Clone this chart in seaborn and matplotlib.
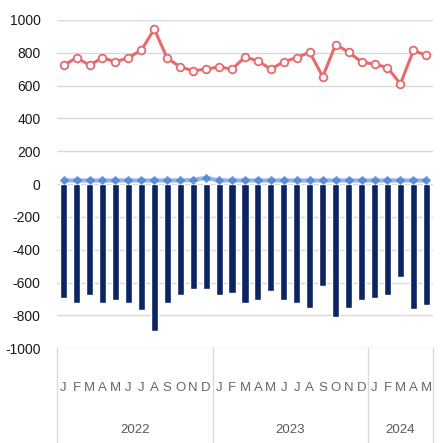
import matplotlib
matplotlib.use("Agg")
import matplotlib.pyplot as plt
import matplotlib.transforms as mtransforms
import seaborn as sns
import numpy as np
import pandas as pd

months = ["J", "F", "M", "A", "M", "J", "J", "A", "S", "O", "N", "D",
          "J", "F", "M", "A", "M", "J", "J", "A", "S", "O", "N", "D",
          "J", "F", "M", "A", "M"]
years = ["2022", "2023", "2024"]
year_counts = [12, 12, 5]

red_series = [724, 770, 724, 770, 744, 770, 816, 944, 766, 714, 690, 700,
              714, 700, 774, 750, 700, 746, 770, 804, 654, 850, 804, 744,
              730, 710, 610, 814, 784]
blue_series = [22, 22, 22, 22, 22, 22, 22, 22, 22, 22, 25, 38,
               22, 22, 22, 22, 22, 22, 22, 22, 22, 22, 22, 22,
               22, 22, 22, 22, 22]
bar_series = [-696, -727, -678, -727, -708, -727, -767, -896, -727, -678, -637, -637,
              -678, -665, -727, -708, -651, -708, -727, -753, -620, -810, -753, -708,
              -696, -678, -566, -763, -737]

df = pd.DataFrame({"idx": np.arange(len(months)), "red": red_series,
                   "blue": blue_series, "bar": bar_series})

sns.set_theme(style="white")
plt.rcParams["font.family"] = ["Liberation Sans Narrow", "Liberation Sans", "DejaVu Sans"]

fig = plt.figure(figsize=(4.43, 4.43), dpi=100)
ax = fig.add_axes([0.129, 0.214, 0.848, 0.741])

for v in range(-1000, 1001, 200):
    ax.axhline(v, color="#d9d9d9", lw=1.0, zorder=0)

sns.barplot(data=df, x="idx", y="bar", color="#0c2461", width=0.55,
            saturation=1, ax=ax, zorder=2, native_scale=True)
sns.lineplot(data=df, x="idx", y="blue", color="#6f9be0", lw=3, alpha=0.75,
             marker="D", markersize=4.5, markeredgecolor="#4a7fd4",
             markerfacecolor="#4a7fd4", ax=ax, zorder=3)
sns.lineplot(data=df, x="idx", y="red", color="#e8696b", lw=2.2,
             marker="o", markersize=5.5, markerfacecolor="white",
             markeredgecolor="#e8696b", markeredgewidth=1.3, ax=ax, zorder=4)

ax.set_xlim(-0.5, len(months) - 0.5)
ax.set_ylim(-1000, 1000)
ax.set_yticks(range(-1000, 1001, 200))
ax.set_yticklabels([str(v) for v in range(-1000, 1001, 200)], fontsize=10, color="#1a1a1a")
ax.tick_params(axis="y", length=0, pad=12)
ax.set_xticks(range(len(months)))
ax.set_xticklabels(months, fontsize=9.5, color="#666666")
ax.tick_params(axis="x", length=0, pad=24)
ax.set_xlabel("")
ax.set_ylabel("")
for s in ax.spines.values():
    s.set_visible(False)

trans = mtransforms.blended_transform_factory(ax.transData, ax.transAxes)
start = -0.5
bounds = [start]
for c in year_counts:
    bounds.append(bounds[-1] + c)
for b in bounds:
    ax.plot([b, b], [0, -0.29], transform=trans, color="#d9d9d9", lw=1, clip_on=False)
for i, y in enumerate(years):
    ax.text((bounds[i] + bounds[i + 1]) / 2, -0.25, y, transform=trans,
            ha="center", va="center", fontsize=9.5, color="#595959")

fig.savefig("out.png", dpi=100)
